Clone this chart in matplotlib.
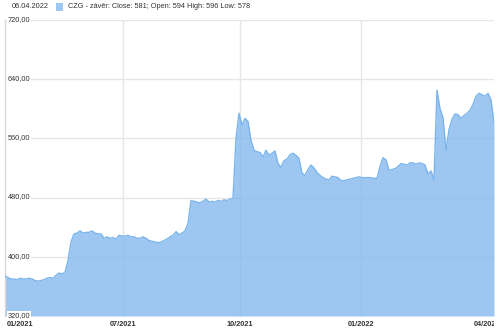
import numpy as np
import matplotlib.pyplot as plt
from matplotlib.transforms import Bbox, TransformedBbox

plt.rcParams['font.family'] = ['Liberation Sans', 'DejaVu Sans']

# ============================================================
# DATA  (CZG close, roughly every 1.6 trading days, 04/2021 -> 06.04.2022)
# ============================================================
close = [
    374, 372, 370, 370, 369, 371, 370, 370, 371, 370,
    368, 367, 368, 369, 371, 372, 371, 375, 378, 377,
    379, 395, 420, 431, 432, 435, 432, 433, 433, 435,
    432, 431, 431, 425, 427, 425, 426, 424, 429, 428,
    428, 429, 427, 427, 425, 425, 427, 425, 422, 421,
    420, 419, 420, 422, 424, 427, 429, 434, 430, 432,
    435, 445, 476, 475, 474, 473, 475, 478, 474, 475,
    474, 476, 475, 477, 476, 478, 479, 560, 594, 578,
    587, 583, 557, 544, 542, 541, 535, 544, 537, 540,
    543, 526, 521, 530, 532, 538, 540, 537, 533, 513,
    510, 518, 524, 520, 514, 510, 507, 505, 504, 509,
    508, 507, 503, 503, 504, 505, 506, 507, 508, 507,
    507, 507, 507, 506, 506, 522, 534, 531, 517, 518,
    519, 522, 526, 525, 524, 527, 527, 525, 527, 526,
    524, 512, 516, 504, 625, 600, 588, 544, 572, 586,
    593, 592, 587, 591, 594, 598, 606, 617, 621, 619,
    617, 621, 612, 581,
]
month_ticks = [39.3, 78.3, 118.7]          # sample index of 07/2021, 10/2021, 01/2022
month_labels = ['07/2021', '10/2021', '01/2022']
first_label = '01/2021'
last_tick = 160.7
last_label = '04/2022'
y_ticks = [320, 400, 480, 560, 640, 720]
header_date = '06.04.2022'
legend_text = 'CZG - závěr: Close: 581; Open: 594 High: 596 Low: 578'

# ============================================================
# FIGURE
# ============================================================
fig = plt.figure(figsize=(5.0, 3.29), dpi=100)
ax = fig.add_axes([5 / 500, 1 - 316 / 329, 489 / 500, 296 / 329])

x = np.arange(len(close))
ax.set_xlim(0, len(close) - 1)
ax.set_ylim(320, 720)

grid_c = '#e6e6e6'
for yv in y_ticks:
    ax.axhline(yv, color=grid_c, lw=1, zorder=1)
for xv in month_ticks:
    ax.axvline(xv, color=grid_c, lw=1, zorder=1)

ax.fill_between(x, close, 320, color='#7cb5ec', alpha=0.75, lw=0, zorder=2)
ax.plot(x, close, color='#7cb5ec', lw=1, zorder=3)

for s in ['top', 'right', 'bottom']:
    ax.spines[s].set_visible(False)
ax.spines['left'].set_color('#d8d8d8')
ax.spines['left'].set_linewidth(1)
ax.set_xticks([])
ax.set_yticks([])

# y labels sitting on the grid lines
for yv in y_ticks:
    ax.text(3 / 489, yv + 1, f'{yv},00', fontsize=5.3, color='#333333',
            ha='left', va='center', transform=ax.get_yaxis_transform(), zorder=5,
            bbox=dict(facecolor='white', edgecolor='none', pad=0.5))

# x labels
lab_kw = dict(fontsize=5.3, fontweight='bold', color='#333333', va='top')
ax.text(2 / 489, -0.017, first_label, ha='left', transform=ax.transAxes, **lab_kw)
for xv, lab in zip(month_ticks, month_labels):
    ax.text(xv, -0.017, lab, ha='center', transform=ax.get_xaxis_transform(), **lab_kw)
t = ax.text(last_tick, -0.017, last_label, ha='center',
            transform=ax.get_xaxis_transform(), **lab_kw)
t.set_clip_box(TransformedBbox(Bbox([[0, -0.2], [1, 1]]), ax.transAxes))
t.set_clip_on(True)

# header: date + legend
fig.text(12 / 500, 1 - 7 / 329, header_date, fontsize=5.3, color='#333333',
         ha='left', va='center')
fig.patches.append(plt.Rectangle((56 / 500, 1 - 10.5 / 329), 7 / 500, 7 / 329,
                                 transform=fig.transFigure, facecolor='#9dc8f1',
                                 edgecolor='none'))
fig.text(68 / 500, 1 - 7 / 329, legend_text, fontsize=5.3, color='#333333',
         ha='left', va='center')

fig.savefig('out.png', dpi=100)
